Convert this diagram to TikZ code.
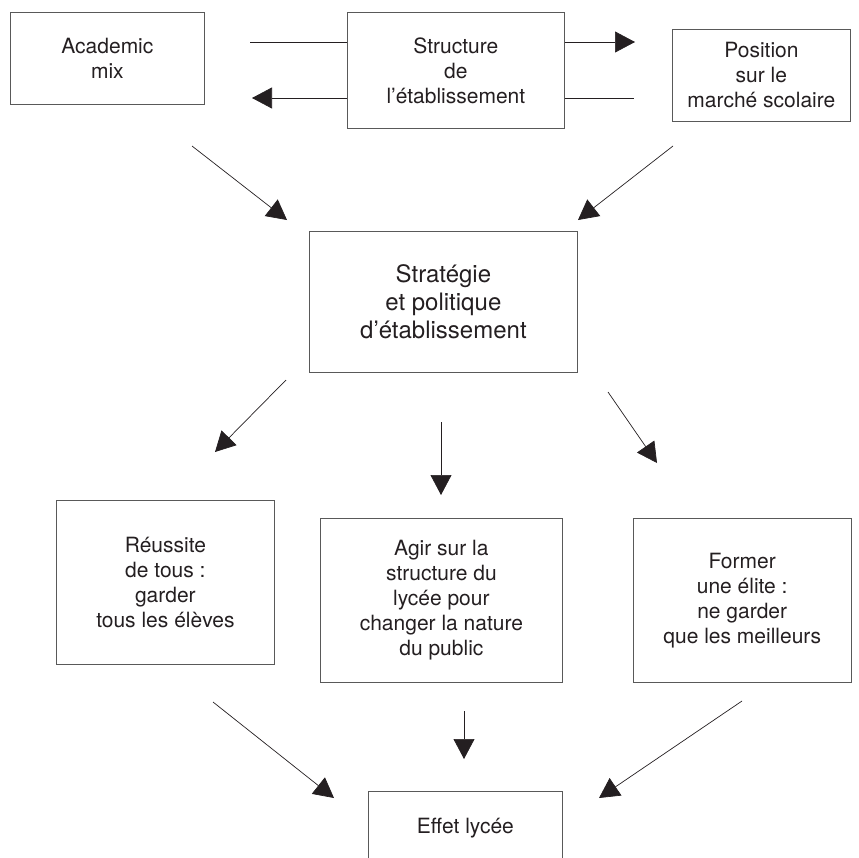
\documentclass[tikz,border=0pt]{standalone}
\usepackage{fontspec}
\setmainfont{TeX Gyre Heros}
\usepackage{tikz}
\usetikzlibrary{arrows.meta, positioning}
\definecolor{encre}{rgb}{0.14,0.12,0.13}
\definecolor{cadre}{rgb}{0.35,0.35,0.35}

\tikzset{
	bloc/.style={draw=cadre, line width=0.8pt, align=center, inner sep=0pt, text=encre, anchor=north west,
		font=\fontsize{21}{25}\selectfont},
	fleche/.style={encre, line width=0.7pt, arrows={-Triangle[length=20pt, width=21pt]}},
	trait/.style={encre, line width=0.7pt}
}

\begin{document}
\begin{tikzpicture}[x=1pt, y=-1pt]
	\useasboundingbox (0,0) rectangle (859,857);

	\node(acad) [bloc, minimum width=194, minimum height=92] at (10,12) {Academic\\mix};
	\node(struct) [bloc, minimum width=217, minimum height=116] at (347,12) {Structure\\de\\l’établissement};
	\node(pos) [bloc, minimum width=178, minimum height=92] at (672,29) {Position\\sur le\\marché scolaire};

	%----------------------------------------------------------------
	\coordinate (a1) at (250,42);
	\coordinate (a2) at (252,98);
	\coordinate (p1) at (635,42);
	\coordinate (p2) at (634,98);
	\draw [trait] (struct.west |- a1) -- (a1);
	\draw [fleche] (struct.west |- a2) -- (a2);
	\draw [fleche] (struct.east |- p1) -- (p1);
	\draw [trait] (struct.east |- p2) -- (p2);

	%----------------------------------------------------------------
	\node(strat) [bloc, minimum width=268, minimum height=141, font=\fontsize{24}{28}\selectfont] at (309,231)
		{Stratégie\\et politique\\d’établissement};

	\coordinate (s1) at (192,146);
	\coordinate (s2) at (287,220);
	\coordinate (s3) at (673,146);
	\coordinate (s4) at (578,220);
	\draw [fleche] (s1) -- (s2);
	\draw [fleche] (s3) -- (s4);

	%----------------------------------------------------------------
	\node(reuss) [bloc, minimum width=218, minimum height=164] at (56,500)
		{Réussite\\de tous :\\garder\\tous les élèves};
	\node(agir) [bloc, minimum width=242, minimum height=164] at (320,518)
		{Agir sur la\\structure du\\lycée pour\\changer la nature\\du public};
	\node(elite) [bloc, minimum width=218, minimum height=164, anchor=west, right=70 of agir]
		{Former\\une élite :\\ne garder\\que les meilleurs};

	\coordinate (m1) at (286,380);
	\coordinate (m2) at (215,452);
	\coordinate (m3) at (441,422);
	\coordinate (m4) at (441,495);
	\coordinate (m5) at (608,392);
	\coordinate (m6) at (657,463);
	\draw [fleche] (m1) -- (m2);
	\draw [fleche] (m3) -- (m4);
	\draw [fleche] (m5) -- (m6);

	%----------------------------------------------------------------
	\node(effet) [bloc, minimum width=194, minimum height=74] at (368,791) {Effet lycée};

	\coordinate (b1) at (213,702);
	\coordinate (b2) at (334,798);
	\coordinate (b3) at (464,711);
	\coordinate (b4) at (464,759);
	\coordinate (b5) at (742,701);
	\coordinate (b6) at (599,798);
	\draw [fleche] (b1) -- (b2);
	\draw [fleche] (b3) -- (b4);
	\draw [fleche] (b5) -- (b6);
\end{tikzpicture}
\end{document}
